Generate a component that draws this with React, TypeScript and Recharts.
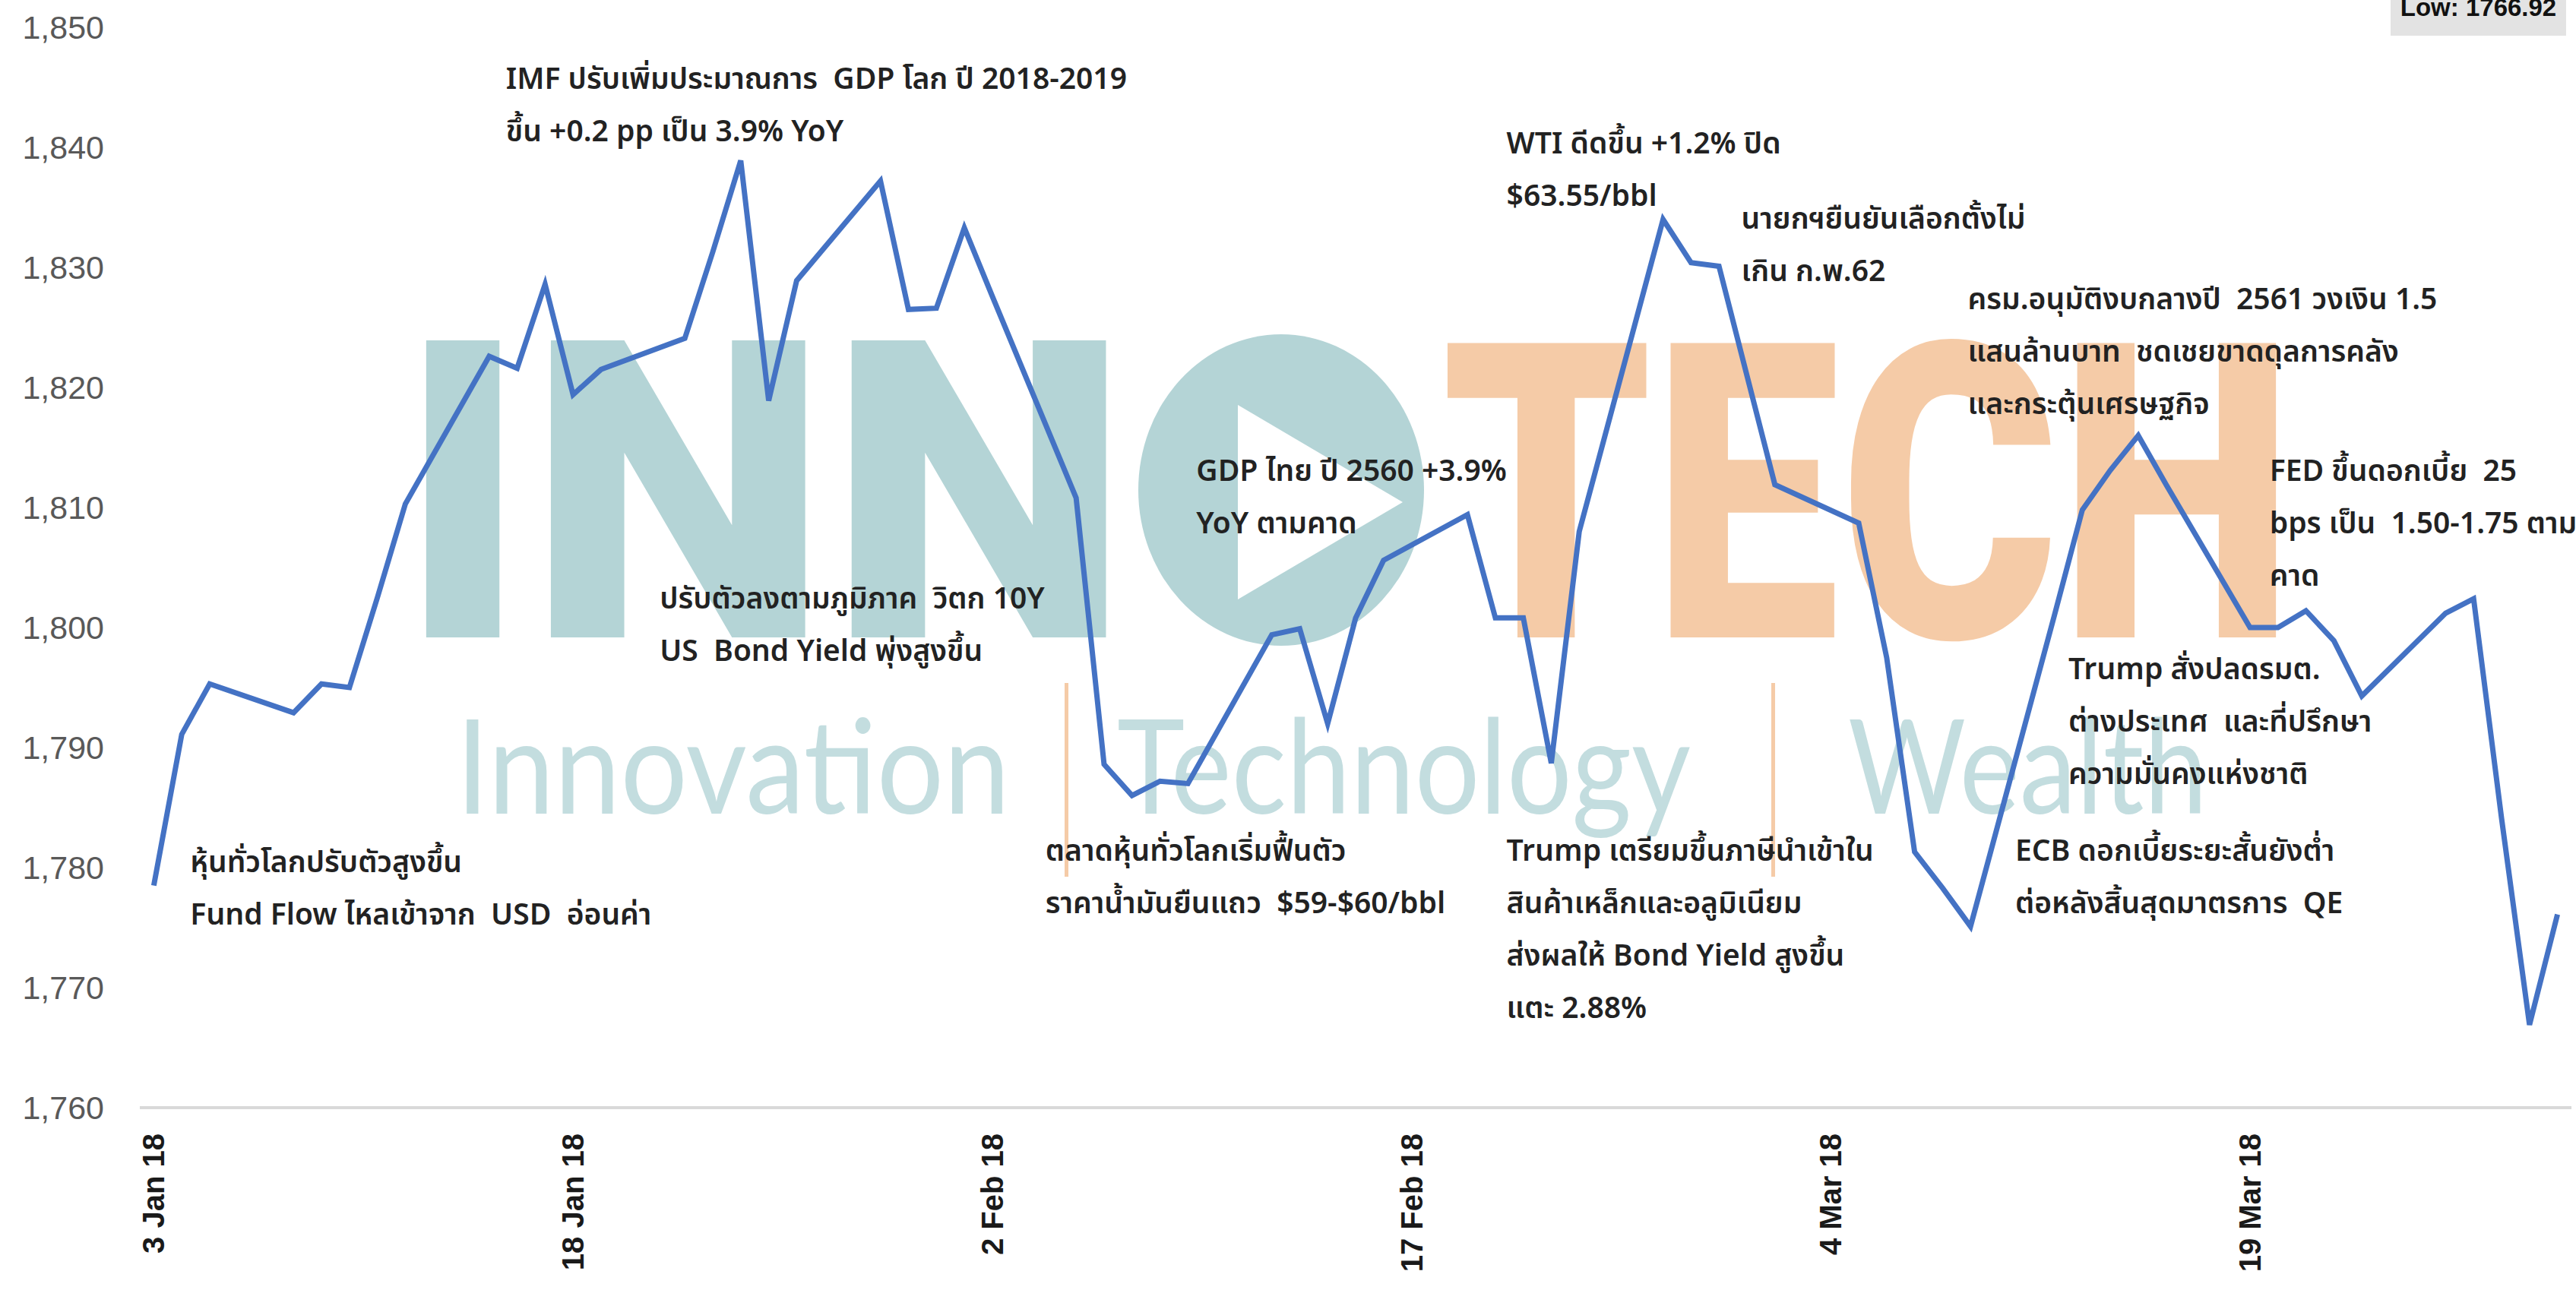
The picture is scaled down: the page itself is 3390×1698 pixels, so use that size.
import React from "react";
import { LineChart, Line, XAxis, YAxis, ReferenceDot } from "recharts";

// SET index, trading days 3 Jan - 30 Mar 2018 (1 Mar holiday)
const tradeDates = [
  "2018-01-03", "2018-01-04", "2018-01-05", "2018-01-08", "2018-01-09", "2018-01-10",
  "2018-01-11", "2018-01-12", "2018-01-15", "2018-01-16", "2018-01-17", "2018-01-18",
  "2018-01-19", "2018-01-22", "2018-01-23", "2018-01-24", "2018-01-25", "2018-01-26",
  "2018-01-29", "2018-01-30", "2018-01-31", "2018-02-01", "2018-02-02", "2018-02-05",
  "2018-02-06", "2018-02-07", "2018-02-08", "2018-02-09", "2018-02-12", "2018-02-13",
  "2018-02-14", "2018-02-15", "2018-02-16", "2018-02-19", "2018-02-20", "2018-02-21",
  "2018-02-22", "2018-02-23", "2018-02-26", "2018-02-27", "2018-02-28", "2018-03-02",
  "2018-03-05", "2018-03-06", "2018-03-07", "2018-03-08", "2018-03-09", "2018-03-12",
  "2018-03-13", "2018-03-14", "2018-03-15", "2018-03-16", "2018-03-19", "2018-03-20",
  "2018-03-21", "2018-03-22", "2018-03-23", "2018-03-26", "2018-03-27", "2018-03-28",
  "2018-03-29", "2018-03-30",
];

const setIndex = [
  1778.5, 1791.1, 1795.3, 1792.9, 1795.3, 1795.0,
  1802.5, 1810.3, 1822.6, 1821.6, 1828.6, 1819.4,
  1821.5, 1824.1, 1831.3, 1838.9, 1818.9, 1828.9,
  1837.2, 1826.5, 1826.6, 1833.3, 1827.6, 1810.8,
  1788.6, 1786.0, 1787.2, 1787.0, 1799.4, 1799.9,
  1792.0, 1800.8, 1805.6, 1809.4, 1800.8, 1800.8,
  1788.7, 1808.0, 1834.0, 1830.4, 1830.1, 1811.9,
  1808.7, 1797.5, 1781.3, 1778.3, 1775.1, 1801.0,
  1809.8, 1813.1, 1816.0, 1811.9, 1800.0, 1800.0,
  1801.4, 1798.9, 1794.3, 1801.2, 1802.4, 1784.1,
  1766.9, 1776.1,
];

const tickDates = ["2018-01-03", "2018-01-18", "2018-02-02", "2018-02-17", "2018-03-04", "2018-03-19"];
const tickLabels = ["3 Jan 18", "18 Jan 18", "2 Feb 18", "17 Feb 18", "4 Mar 18", "19 Mar 18"];
const yTicks = [1760, 1770, 1780, 1790, 1800, 1810, 1820, 1830, 1840, 1850];

const lowLabel = "Low: 1766.92";

// news notes: anchor (days after 3 Jan, index level) of the first line
const noteDays = [1.3, 12.6, 18.1, 31.9, 37.3, 48.4, 56.8, 64.9, 75.7, 68.5, 66.6, 48.4];
const noteLevels = [1779.6, 1844.9, 1801.6, 1780.6, 1812.2, 1839.5, 1833.2, 1826.5, 1812.2, 1795.7, 1780.6, 1780.6];
const noteTexts = [
  ["หุ้นทั่วโลกปรับตัวสูงขึ้น", "Fund Flow ไหลเข้าจาก  USD  อ่อนค่า"],
  ["IMF ปรับเพิ่มประมาณการ  GDP โลก ปี 2018-2019", "ขึ้น +0.2 pp เป็น 3.9% YoY"],
  ["ปรับตัวลงตามภูมิภาค  วิตก 10Y", "US  Bond Yield พุ่งสูงขึ้น"],
  ["ตลาดหุ้นทั่วโลกเริ่มฟื้นตัว", "ราคาน้ำมันยืนแถว  $59-$60/bbl"],
  ["GDP ไทย ปี 2560 +3.9%", "YoY ตามคาด"],
  ["WTI ดีดขึ้น +1.2% ปิด", "$63.55/bbl"],
  ["นายกฯยืนยันเลือกตั้งไม่", "เกิน ก.พ.62"],
  ["ครม.อนุมัติงบกลางปี  2561 วงเงิน 1.5", "แสนล้านบาท  ชดเชยขาดดุลการคลัง", "และกระตุ้นเศรษฐกิจ"],
  ["FED ขึ้นดอกเบี้ย  25", "bps เป็น  1.50-1.75 ตาม", "คาด"],
  ["Trump สั่งปลดรมต.", "ต่างประเทศ  และที่ปรึกษา", "ความมั่นคงแห่งชาติ"],
  ["ECB ดอกเบี้ยระยะสั้นยังต่ำ", "ต่อหลังสิ้นสุดมาตรการ  QE"],
  ["Trump เตรียมขึ้นภาษีนำเข้าใน", "สินค้าเหล็กและอลูมิเนียม", "ส่งผลให้ Bond Yield สูงขึ้น", "แตะ 2.88%"],
];

const START = Date.UTC(2018, 0, 3);
const dayOf = (s: string) => {
  const [y, m, d] = s.split("-").map(Number);
  return Math.round((Date.UTC(y, m - 1, d) - START) / 86400000);
};

const data = tradeDates.map((d, i) => ({ day: dayOf(d), value: setIndex[i] }));
const tickDays = tickDates.map(dayOf);

const TEAL = "#b4d4d6";
const PEACH = "#f5cba7";
const NOTE_FONT = '"Noto Sans Thai", "Noto Sans Thai UI", Tahoma, "DejaVu Sans", sans-serif';

const XTick = ({ x, y, payload }: any) => {
  const i = tickDays.indexOf(payload.value);
  return (
    <text
      x={x}
      y={y}
      transform={`rotate(-90 ${x} ${y})`}
      textAnchor="end"
      dominantBaseline="central"
      fontFamily='"Liberation Sans", Arial, sans-serif'
      fontWeight={700}
      fontSize={40}
      fill="#1a1a1a"
    >
      {tickLabels[i]}
    </text>
  );
};

const YTick = ({ x, y, payload }: any) => (
  <text
    x={x}
    y={y}
    textAnchor="end"
    dominantBaseline="central"
    fontFamily='"Liberation Sans", Arial, sans-serif'
    fontSize={43}
    fill="#595959"
  >
    {payload.value.toLocaleString("en-US")}
  </text>
);

const noteLabel = (lines: string[]) => (props: any) => {
  const vb = props.viewBox || {};
  return (
    <text
      x={vb.x}
      y={vb.y}
      fontFamily={NOTE_FONT}
      fontSize={39}
      fontWeight={600}
      fill="#222222"
      style={{ whiteSpace: "pre" }}
    >
      {lines.map((t, k) => (
        <tspan key={k} x={vb.x} dy={k === 0 ? 0 : 69}>
          {t}
        </tspan>
      ))}
    </text>
  );
};

const Watermark = () => (
  <svg width={3390} height={1698} style={{ position: "absolute", left: 0, top: 0 }}>
    <text x={524} y={839} fontFamily="Roboto, sans-serif" fontWeight={900} fontSize={550} fill={TEAL}
      textLength={962} lengthAdjust="spacingAndGlyphs">INN</text>
    <ellipse cx={1686} cy={645} rx={188} ry={205} fill={TEAL} />
    <polygon points="1629,533 1629,789 1846,661" fill="#ffffff" />
    <text x={1897} y={839} fontFamily="Roboto, sans-serif" fontWeight={900} fontSize={545} fill={PEACH}
      textLength={1122} lengthAdjust="spacingAndGlyphs">TECH</text>
    <text x={600} y={1071} fontFamily="Lato, sans-serif" fontSize={172} fill="#c3dddf"
      textLength={729} lengthAdjust="spacingAndGlyphs">Innovation</text>
    <rect x={1401} y={899} width={5} height={255} fill={PEACH} />
    <text x={1470} y={1071} fontFamily="Lato, sans-serif" fontSize={172} fill="#c3dddf"
      textLength={755} lengthAdjust="spacingAndGlyphs">Technology</text>
    <rect x={2331} y={899} width={5} height={255} fill={PEACH} />
    <text x={2432} y={1071} fontFamily="Lato, sans-serif" fontSize={172} fill="#c3dddf"
      textLength={473} lengthAdjust="spacingAndGlyphs">Wealth</text>
  </svg>
);

export default function App() {
  return (
    <div
      style={{
        position: "fixed",
        left: 0,
        top: 0,
        width: 3390,
        height: 1698,
        overflow: "hidden",
        background: "#ffffff",
      }}
    >
      <Watermark />
      <div style={{ position: "absolute", left: 0, top: 0 }}>
        <LineChart width={3390} height={1698} data={data} margin={{ top: 36, right: 6, left: 0, bottom: 0 }}>
          <XAxis
            dataKey="day"
            type="number"
            domain={[-0.5, 86.5]}
            ticks={tickDays}
            tick={<XTick />}
            tickSize={0}
            tickMargin={34}
            height={240}
            interval={0}
            axisLine={{ stroke: "#d9d9d9", strokeWidth: 4 }}
            tickLine={false}
          />
          <YAxis
            domain={[1760, 1850]}
            ticks={yTicks}
            tick={<YTick />}
            tickSize={0}
            tickMargin={47}
            width={184}
            interval={0}
            axisLine={false}
            tickLine={false}
          />
          <Line
            type="linear"
            dataKey="value"
            stroke="#4472c4"
            strokeWidth={7}
            dot={false}
            isAnimationActive={false}
          />
          {noteTexts.map((lines, i) => (
            <ReferenceDot
              key={i}
              x={noteDays[i]}
              y={noteLevels[i]}
              r={0}
              fill="none"
              stroke="none"
              ifOverflow="visible"
              label={noteLabel(lines)}
            />
          ))}
        </LineChart>
      </div>
      <div
        style={{
          position: "absolute",
          left: 3146,
          top: 0,
          width: 231,
          height: 47,
          background: "#e3e3e3",
          overflow: "hidden",
        }}
      >
        <div
          style={{
            position: "absolute",
            left: 0,
            right: 0,
            top: -7,
            textAlign: "center",
            fontFamily: '"Liberation Sans", Arial, sans-serif',
            fontWeight: 700,
            fontSize: 33,
            lineHeight: "33px",
            color: "#111111",
          }}
        >
          {lowLabel}
        </div>
      </div>
    </div>
  );
}
